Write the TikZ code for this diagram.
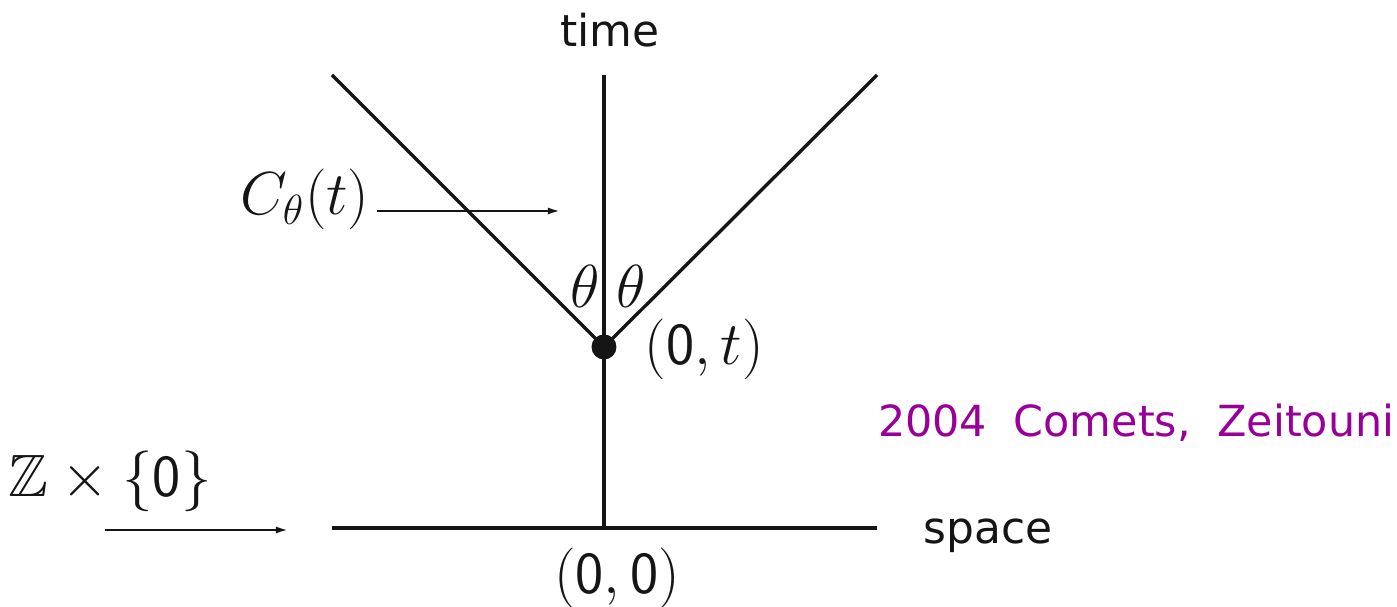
\documentclass[tikz,border=0pt]{standalone}
\usepackage{amsmath,amssymb}
\usepackage{fontspec}
\newfontfamily\labelfont{DejaVu Sans}
\usepackage{xcolor}
\definecolor{ink}{HTML}{151515}
\definecolor{cite}{HTML}{990099}
\usetikzlibrary{arrows.meta,positioning}
\tikzset{
  every picture/.style={line width=0.85pt},
  axis/.style={draw=ink, line width=0.95pt},
  pointer/.style={-{Latex[length=1.2mm, width=0.7mm]}, draw=ink, line width=0.6pt},
  word/.style={font=\labelfont\fontsize{12.5}{15}\selectfont, text=ink, inner sep=0pt},
  formula/.style={font=\fontsize{17}{20}\selectfont, text=ink, inner sep=0pt},
}

\begin{document}
\begin{tikzpicture}[
    spot/.style={circle, fill=ink, minimum size=2.5mm, inner sep=0pt}]
  \useasboundingbox (-6.04,-0.79) rectangle (7.93,5.28);
  % axes and cone
  \coordinate (o) at (0,0);
  \coordinate (top) at (0,4.53);
  \coordinate (sl) at (-2.72,0);
  \coordinate (sr) at (2.73,0);
  \coordinate (cl) at (-2.72,4.53);
  \coordinate (cr) at (2.73,4.53);
  \node[spot] (apex) at (0,1.81) {};
  \draw[axis] (sl) -- (sr);
  \draw[axis] (o) -- (top);
  \draw[axis] (cl) -- (apex.center) -- (cr);
  % labels
  \node[word] (time) at (0.06,4.98) {time};
  \node[word, anchor=base west] (space) at (3.18,-0.16) {space};
  \node[formula] (origin) at (0.13,-0.5) {$(\mathsf{0},\mathsf{0})$};
  \node[formula, anchor=west] (apexlbl) at (0.39,1.79) {$(\mathsf{0},t)$};
  \node[formula] (thl) at (-0.19,2.42) {$\theta$};
  \node[formula] (thr) at (0.27,2.42) {$\theta$};
  \node[formula, anchor=base east] (cone) at (-2.33,3.13) {$C_\theta(t)$};
  \node[formula, anchor=base] (grid) at (-4.94,0.31) {$\mathbb{Z}\times\{\mathsf{0}\}$};
  \node[word, text=cite, anchor=base east, font=\labelfont\fontsize{12.2}{15}\selectfont] (ref) at (7.92,0.91) {2004\hspace{0.62em}Comets,\hspace{0.62em}Zeitouni};
  % pointers
  \coordinate (conetip) at (-0.44,3.17);
  \coordinate (gridfrom) at (-4.99,-0.02);
  \coordinate (gridtip) at (-3.16,-0.02);
  \draw[pointer] (cone.base east |- conetip) ++(0.06,0) -- (conetip);
  \draw[pointer] (gridfrom) -- (gridtip);
\end{tikzpicture}
\end{document}
